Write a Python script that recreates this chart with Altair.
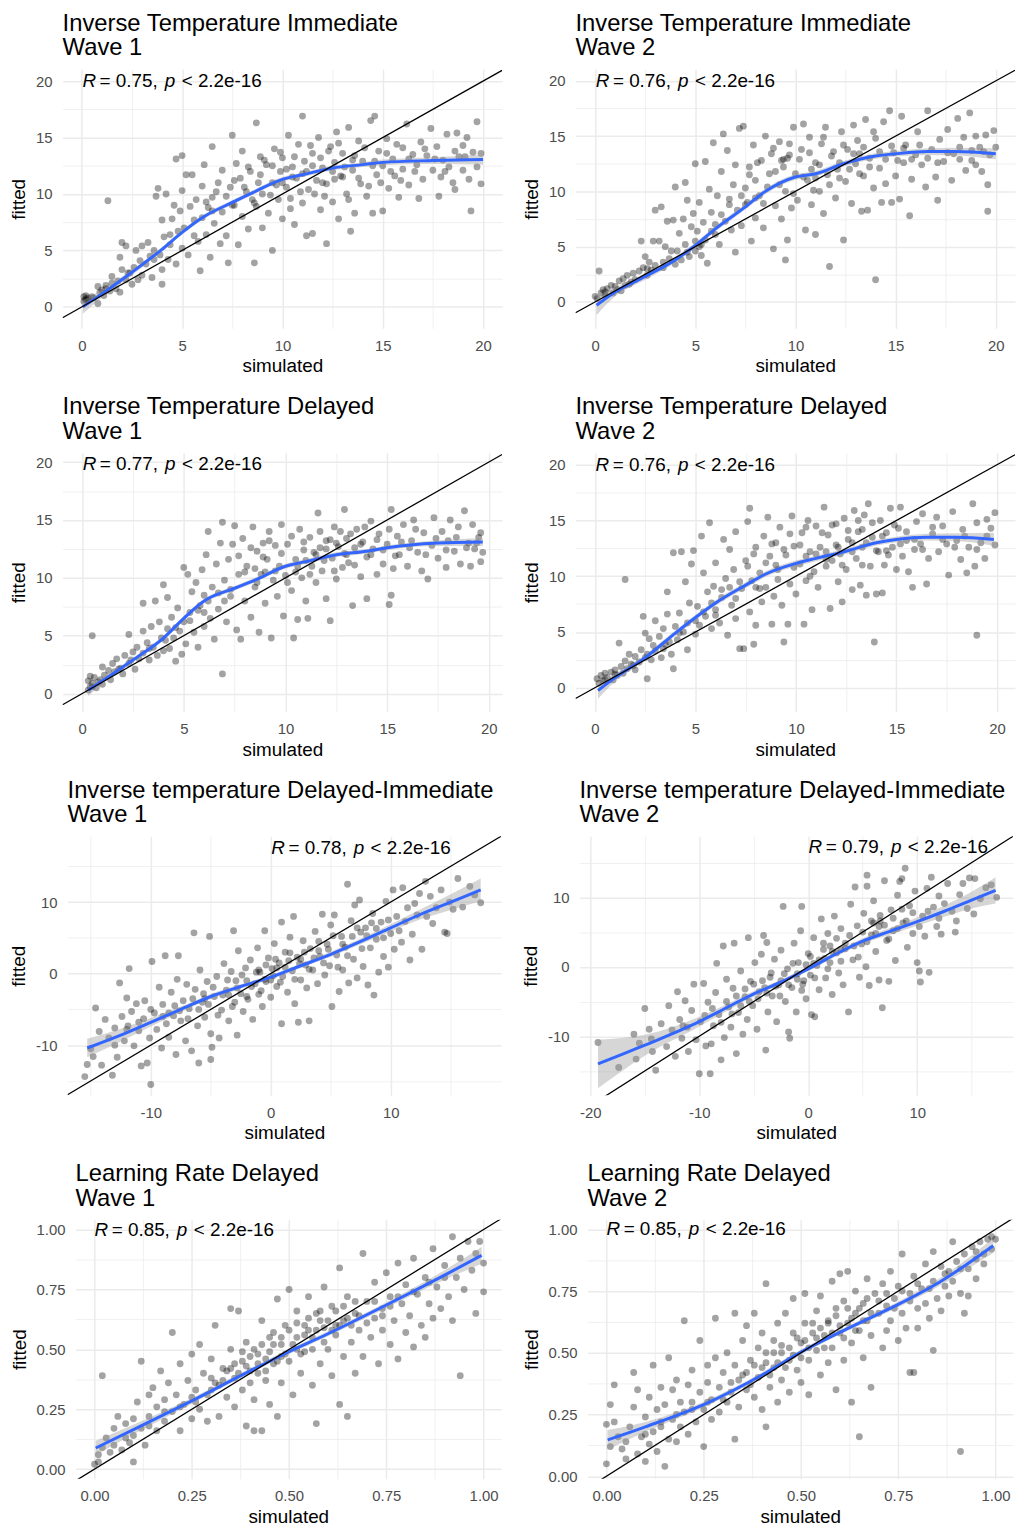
import altair as alt
import pandas as pd

FONT = "Liberation Sans"

TITLES = [
    ["Inverse Temperature Immediate", "Wave 1"],
    ["Inverse Temperature Immediate", "Wave 2"],
    ["Inverse Temperature Delayed", "Wave 1"],
    ["Inverse Temperature Delayed", "Wave 2"],
    ["Inverse temperature Delayed-Immediate", "Wave 1"],
    ["Inverse temperature Delayed-Immediate", "Wave 2"],
    ["Learning Rate Delayed", "Wave 1"],
    ["Learning Rate Delayed", "Wave 2"],
]
R_VALUES = ["0.75", "0.76", "0.77", "0.76", "0.78", "0.79", "0.85", "0.85"]
P_LABEL = "2.2e-16"
ANNOT_X = [0.03, 0.03, 0.03, 0.03, 0.05, 0.03, 0.0, 0.0]
ANNOT_Y = [20.0, 20.0, 19.8, 20.0, 17.6, 17.3, 1.0, 1.0]

# axis ranges (data units)
X_DOMAINS = [[-0.96, 20.95], [-0.98, 20.96], [-0.96, 20.65], [-0.97, 20.9],
             [-16.94, 19.2], [-21.0, 18.8], [-0.049, 1.045], [-0.049, 1.045]]
Y_DOMAINS = [[-1.9, 21.04], [-2.39, 21.04], [-1.57, 20.8], [-2.16, 21.07],
             [-17.0, 19.2], [-18.5, 18.8], [-0.040, 1.041], [-0.010, 1.039]]

TICKS_BETA = [0, 5, 10, 15, 20]
MINOR_BETA = [2.5, 7.5, 12.5, 17.5]
TICKS_DIFF_X1 = [-10, 0, 10]
TICKS_DIFF_X2 = [-20, -10, 0, 10]
TICKS_DIFF_Y = [-10, 0, 10]
MINOR_DIFF = [-15, -5, 5, 15]
TICKS_LR = [0, 0.25, 0.5, 0.75, 1.0]
MINOR_LR = [0.125, 0.375, 0.625, 0.875]

# ---------------- scatter points (simulated, fitted) ----------------
P1_PTS = [(0.1,0.5),(0.1,0.9),(0.2,0.7),(0.2,1.0),(0.3,0.6),(0.3,0.8),(0.5,0.9),(0.8,0.3),(0.8,1.8),(0.9,1.3),(1.0,1.5),
(1.1,1.0),(1.2,1.9),(1.3,9.4),(1.4,1.4),(1.5,2.1),(1.5,2.7),(1.7,1.6),(1.8,2.3),(1.9,1.3),(1.9,4.4),(2.0,3.3),(2.0,5.7),
(2.2,5.4),(2.2,2.4),(2.4,3.0),(2.5,2.0),(2.6,3.5),(2.7,5.0),(2.8,2.4),(2.9,4.1),(3.0,5.4),(3.0,2.8),
(3.2,3.8),(3.3,5.7),(3.4,4.5),(3.5,2.6),(3.6,5.0),(3.7,9.8),(3.8,10.5),(3.9,4.6),(4.0,2.0),(4.0,3.3),(4.0,7.7),(4.1,6.2),
(4.2,10.0),(4.3,4.2),(4.4,5.5),(4.5,7.8),(4.6,9.0),(4.7,13.1),(4.7,3.8),(4.8,6.7),(4.9,8.5),(5.0,13.4),(5.0,5.2),(5.0,10.3),
(5.1,7.0),(5.2,11.7),(5.3,4.6),(5.4,8.9),(5.5,11.7),(5.6,6.3),(5.7,9.5),(5.8,5.8),(5.9,3.2),(6.0,7.9),(6.0,10.7),
(6.1,12.6),(6.2,6.4),(6.3,8.8),(6.4,4.4),(6.5,14.2),(6.5,9.7),(6.6,7.4),(6.8,11.0),(6.9,5.6),(7.0,12.1),(7.0,8.4),
(7.2,6.3),(7.3,3.9),(7.4,10.6),(7.5,15.2),(7.6,9.0),(7.7,12.7),(7.8,5.5),(7.9,11.4),(8.0,8.0),(8.0,13.8),
(8.2,10.2),(8.3,6.9),(8.4,12.0),(8.6,3.9),(8.7,16.3),(8.7,8.9),(8.8,11.0),(8.9,13.3),(9.0,7.0),(9.0,10.0),
(9.2,12.6),(9.3,8.3),(9.5,5.0),(9.5,11.0),(9.6,14.0),(9.8,9.5),(9.9,12.0),(10.0,7.8),(10.0,13.2),
(10.2,10.6),(10.3,15.2),(10.4,8.7),(10.5,12.4),(10.6,7.3),(10.7,11.4),(10.8,14.4),(11.0,16.9),(11.0,9.2),(11.1,12.9),
(11.2,6.3),(11.3,10.4),(11.5,6.5),(11.5,13.6),(11.7,11.2),(11.8,15.0),(11.9,8.6),(12.0,12.3),
(12.2,5.6),(12.2,10.9),(12.4,14.2),(12.5,9.3),(12.6,12.8),(12.7,15.5),(12.8,7.8),(12.9,11.6),(13.0,13.6),
(13.2,10.0),(13.3,15.9),(13.4,6.7),(13.5,12.1),(13.6,8.3),(13.8,14.7),(13.9,10.9),(14.0,12.9),
(14.2,9.8),(14.4,16.5),(14.5,8.3),(14.6,16.9),(14.7,11.7),(14.8,13.8),(15.0,8.5),(15.0,12.5),
(15.2,14.9),(15.3,10.5),(15.5,13.1),(15.6,11.6),(15.8,9.7),(16.0,14.1),(16.0,12.2),
(16.2,16.2),(16.3,10.8),(16.5,13.5),(16.6,12.0),(16.8,9.6),(16.9,14.6),(17.0,11.3),
(17.2,13.4),(17.4,15.8),(17.5,12.1),(17.7,14.2),(17.8,9.8),(17.9,11.5),(18.0,13.0),
(18.2,15.3),(18.3,12.4),(18.5,11.0),(18.6,10.4),(18.7,15.4),(18.8,13.3),(19.0,12.1),(19.0,14.3),
(19.2,15.0),(19.3,11.3),(19.4,8.5),(19.5,13.7),(19.7,16.4),(19.7,12.4),(19.9,10.9),(19.9,13.6),
(9.5,12.5),(10.5,11.5),(11.5,12.5),(12.0,11.0),(12.5,12.0),(13.0,11.5),(11.0,11.8),(10.0,11.0),(8.5,9.5),(7.5,9.0),(6.5,8.5),(13.5,13.0),(14.5,12.5),
(7.2,9.8),(7.6,11.2),(8.1,10.6),(8.3,12.4),(8.6,9.2),(8.9,11.7),(9.1,13.0),(9.4,9.9),(9.7,10.8),(9.9,13.7),(10.2,12.2),(10.4,9.6),(10.6,13.3),(10.9,10.2),(11.2,12.0),(11.4,14.3),(11.6,10.0),(11.9,13.2),(12.1,9.8),(12.3,13.8),(12.6,11.3),(12.8,14.5),(13.1,12.4),(13.3,9.5),(13.6,13.4),(13.8,11.4),(14.1,14.1),(14.3,10.7),(14.6,12.9),(14.9,11.0),(15.2,13.6),(15.4,12.0),(15.7,14.4),(15.9,11.2),(16.3,13.1),(16.7,12.6),(17.1,14.0),(17.6,13.1),(18.1,12.0),(18.6,13.8),(19.1,13.3),(5.6,7.7),(6.2,9.3),(6.7,10.2),(4.4,6.4),(3.6,4.2),(2.3,3.0),(1.2,1.6),(0.6,0.8),(0.2,0.6)]

P2_PTS = [(0.0,0.5),(0.1,0.3),(0.2,2.8),(0.3,0.8),(0.4,1.1),(0.5,0.6),(0.6,1.2),(0.8,1.5),(0.9,0.8),(1.0,1.4),
(1.2,1.9),(1.3,1.0),(1.4,2.1),(1.5,1.5),(1.6,2.4),(1.8,1.8),(1.9,2.6),(2.0,2.0),
(2.2,2.8),(2.3,5.5),(2.4,3.1),(2.5,4.1),(2.6,2.4),(2.7,3.6),(2.8,2.9),(2.9,5.5),(3.0,8.3),(3.0,3.3),
(3.2,5.5),(3.3,8.6),(3.4,3.1),(3.5,5.0),(3.6,7.3),(3.7,3.9),(3.8,4.6),(3.9,7.4),(4.0,10.4),(4.0,3.4),
(4.2,6.2),(4.3,3.8),(4.4,7.5),(4.5,10.8),(4.5,5.2),(4.6,9.2),(4.7,4.1),(4.8,6.8),(4.9,8.0),(5.0,12.5),(5.0,4.6),(5.0,5.5),
(5.1,6.4),(5.2,9.0),(5.3,4.2),(5.4,7.2),(5.5,12.7),(5.5,5.6),(5.6,3.5),(5.7,10.2),(5.8,8.1),(5.9,14.4),(6.0,6.1),
(6.1,9.6),(6.2,5.2),(6.3,11.8),(6.4,15.2),(6.5,7.3),(6.6,13.7),(6.7,8.8),(6.8,6.5),(6.9,10.6),(7.0,4.5),(7.0,12.4),
(7.1,8.3),(7.2,15.7),(7.3,6.9),(7.4,15.9),(7.5,10.3),(7.6,9.0),(7.7,12.2),(7.8,5.5),(7.9,14.2),(8.0,7.6),(8.0,11.0),
(8.2,9.6),(8.3,12.8),(8.4,6.7),(8.5,15.0),(8.6,10.4),(8.8,13.4),(8.9,4.8),(9.0,8.7),(9.0,11.8),
(9.2,14.5),(9.3,7.5),(9.4,12.9),(9.5,3.8),(9.5,10.0),(9.6,5.6),(9.7,13.3),(9.8,8.5),(9.9,15.8),(10.0,11.6),
(10.1,9.2),(10.3,13.8),(10.4,16.1),(10.5,6.5),(10.6,11.0),(10.7,14.9),(10.8,8.8),(11.0,6.1),(11.0,12.6),
(11.2,10.0),(11.3,14.3),(11.4,8.0),(11.5,15.8),(11.6,11.5),(11.7,3.2),(11.8,13.2),(12.0,9.4),
(12.1,12.0),(12.3,15.4),(12.4,5.6),(12.5,10.9),(12.6,13.8),(12.8,8.9),(12.9,16.0),(13.0,12.5),
(13.1,14.6),(13.3,8.2),(13.4,11.4),(13.5,16.5),(13.6,8.3),(13.7,13.0),(13.9,10.3),(14.0,2.0),(14.0,14.8),
(14.2,12.1),(14.3,9.0),(14.4,16.3),(14.5,10.7),(14.7,17.3),(14.8,9.0),(14.9,13.5),(15.0,11.4),
(15.2,9.3),(15.3,16.8),(15.4,12.6),(15.5,14.2),(15.7,7.8),(15.8,11.1),(16.0,13.3),
(16.1,15.4),(16.3,12.4),(16.5,10.4),(16.6,17.3),(16.8,13.8),(17.0,11.3),(17.1,9.2),
(17.2,14.7),(17.4,12.7),(17.6,15.6),(17.8,11.0),(17.9,13.4),(18.1,16.6),
(18.2,12.9),(18.4,14.9),(18.5,11.9),(18.7,17.1),(18.8,13.7),(19.0,15.0),(19.0,12.4),
(19.2,14.0),(19.3,11.8),(19.5,15.1),(19.6,8.2),(19.6,10.6),(19.7,13.3),(19.9,15.5),(20.0,14.0),
(9.3,12.8),(9.6,13.0),(8.0,9.4),(7.5,8.8),(10.8,12.0),(12.2,12.6),(13.2,13.4),(11.0,11.2),(6.0,7.0),(5.2,5.0),
(7.3,9.6),(7.7,11.5),(8.1,12.6),(8.4,8.9),(8.7,11.6),(8.9,13.9),(9.2,10.6),(9.4,12.2),(9.7,14.3),(9.9,9.8),(10.2,12.9),(10.4,11.3),(10.7,13.5),(10.9,10.1),(11.2,12.4),(11.4,14.9),(11.7,10.6),(11.9,13.6),(12.2,11.2),(12.4,14.2),(12.7,12.0),(12.9,13.4),(13.2,11.6),(13.4,14.0),(13.7,12.2),(13.9,15.4),(14.2,13.6),(14.5,12.9),(14.8,14.1),(15.1,12.8),(15.4,13.9),(15.8,12.9),(16.2,14.2),(16.6,13.0),(17.1,12.6),(17.6,13.5),(18.2,14.0),(18.8,12.8),(19.4,13.6),(5.3,5.2),(5.8,6.4),(6.3,7.9),(6.7,9.3),(4.6,4.5),(4.1,4.6),(3.4,3.6),(2.6,3.0),(1.7,1.6),(1.1,1.1),(0.5,0.9)]

P3_PTS = [(0.3,0.3),(0.3,1.1),(0.4,0.6),(0.4,1.5),(0.5,5.0),(0.5,0.9),(0.6,1.4),(0.7,0.5),(0.8,1.0),(1.0,0.8),(1.0,2.3),
(1.1,1.6),(1.3,2.0),(1.4,1.2),(1.5,2.6),(1.6,1.9),(1.7,3.0),(1.9,2.2),(2.0,1.7),(2.1,3.3),
(2.3,5.1),(2.3,2.6),(2.5,3.6),(2.6,2.1),(2.7,4.0),(2.8,3.0),(3.0,7.8),(3.0,5.4),(3.0,3.5),
(3.2,4.4),(3.3,2.9),(3.4,5.8),(3.5,4.0),(3.6,8.0),(3.7,3.3),(3.8,6.2),(3.9,4.8),(4.0,9.4),(4.0,3.7),
(4.2,8.3),(4.2,5.6),(4.3,3.9),(4.4,6.6),(4.5,4.8),(4.6,2.8),(4.7,7.4),(4.8,5.4),(4.9,3.4),(5.0,10.9),(5.0,6.2),
(5.1,4.3),(5.2,10.3),(5.3,7.0),(5.4,8.8),(5.5,5.3),(5.6,9.6),(5.7,4.0),(5.8,7.6),(5.9,10.7),(6.0,5.8),(6.0,8.5),
(6.1,12.0),(6.2,14.0),(6.3,6.5),(6.4,9.2),(6.5,4.7),(6.6,11.2),(6.7,7.3),(6.8,13.0),(6.9,1.7),(6.9,14.8),(7.0,9.8),
(7.1,6.2),(7.2,11.6),(7.3,8.4),(7.4,12.9),(7.5,14.5),(7.6,5.5),(7.7,10.3),(7.8,4.7),(7.9,13.4),(8.0,8.0),
(8.1,11.0),(8.3,6.6),(8.4,14.4),(8.5,9.2),(8.6,12.3),(8.7,5.3),(8.8,10.3),(8.9,13.0),(9.0,7.8),
(9.1,11.6),(9.2,14.0),(9.3,4.8),(9.4,9.8),(9.5,12.8),(9.6,8.4),(9.7,11.0),(9.8,14.6),(9.9,6.7),(10.0,10.2),
(10.1,12.9),(10.3,8.9),(10.4,4.8),(10.5,11.6),(10.6,6.4),(10.7,14.2),(10.8,10.0),(10.9,12.4),(11.0,8.0),
(11.1,6.5),(11.2,13.5),(11.3,11.0),(11.5,9.6),(11.6,15.6),(11.7,12.6),(11.8,10.6),(12.0,13.2),(12.0,8.2),
(12.2,6.3),(12.3,11.7),(12.4,14.4),(12.5,9.9),(12.6,12.7),(12.8,10.9),(12.9,15.9),(13.0,13.4),
(13.1,11.3),(13.3,7.6),(13.4,12.6),(13.5,14.2),(13.7,10.1),(13.8,13.1),(14.0,8.2),(14.0,11.8),
(14.2,14.9),(14.3,12.5),(14.5,10.3),(14.6,13.8),(14.8,11.2),(15.0,12.9),(15.1,7.7),
(15.2,15.9),(15.2,8.5),(15.3,10.8),(15.5,13.6),(15.6,12.0),(15.8,14.6),(16.0,11.0),
(16.2,13.2),(16.3,15.0),(16.5,12.2),(16.7,10.6),(16.8,13.9),(17.0,9.9),
(17.2,12.8),(17.3,15.2),(17.5,11.7),(17.7,14.0),(17.9,10.9),(18.0,13.2),
(18.1,15.0),(18.3,12.3),(18.5,14.4),(18.6,11.2),(18.8,15.8),(19.0,13.0),
(19.1,11.0),(19.2,14.6),(19.3,12.5),(19.5,13.5),(19.6,13.9),(19.6,11.4),(19.7,12.2),
(11.5,12.0),(12.0,12.5),(11.0,11.5),(12.5,13.0),(10.5,10.5),(9.0,10.5),(13.0,12.0),(8.5,10.8),(7.0,8.0),(6.0,7.0),
(7.3,9.0),(7.7,11.9),(8.0,10.5),(8.3,12.6),(8.6,9.6),(8.9,11.8),(9.2,13.2),(9.5,10.6),(9.8,12.1),(10.1,9.6),(10.3,13.6),(10.6,11.0),(10.9,13.1),(11.2,10.3),(11.4,12.2),(11.7,14.0),(11.9,11.5),(12.2,13.3),(12.4,10.6),(12.7,14.0),(12.9,12.1),(13.2,13.8),(13.4,11.1),(13.7,12.9),(13.9,14.4),(14.2,12.0),(14.5,13.3),(14.8,12.4),(15.1,14.2),(15.4,11.9),(15.7,13.1),(16.1,12.6),(16.4,14.2),(16.9,12.0),(17.4,13.4),(17.9,12.4),(18.4,13.5),(18.9,12.6),(19.4,13.0),(5.3,6.3),(5.7,7.2),(6.2,8.0),(6.7,8.7),(4.6,5.7),(4.1,4.6),(3.3,3.9),(2.4,2.9),(1.8,2.1),(0.9,1.2),(0.5,0.6)]

P4_PTS = [(0.1,0.8),(0.2,0.4),(0.3,1.1),(0.4,0.6),(0.5,1.3),(0.6,0.9),(0.8,1.4),(0.9,0.7),(1.0,1.6),
(1.1,1.1),(1.2,4.0),(1.3,1.9),(1.4,1.3),(1.5,9.7),(1.5,2.4),(1.6,1.7),(1.7,3.0),(1.8,2.1),(2.0,1.6),(2.0,2.8),
(2.2,2.3),(2.3,3.4),(2.4,6.4),(2.5,4.9),(2.6,0.8),(2.6,3.0),(2.7,4.4),(2.8,2.5),(2.9,3.8),(3.0,6.0),(3.0,3.3),
(3.2,4.6),(3.3,2.7),(3.4,5.3),(3.5,3.9),(3.6,8.6),(3.6,6.6),(3.7,4.1),(3.8,3.0),(3.9,12.1),(3.9,1.7),(4.0,5.5),
(4.1,4.3),(4.2,6.7),(4.3,12.2),(4.4,5.0),(4.5,9.5),(4.6,3.4),(4.7,7.6),(4.8,11.1),(4.9,12.3),(5.0,6.0),(5.0,4.8),
(5.1,7.3),(5.2,5.6),(5.3,13.6),(5.4,10.3),(5.5,6.4),(5.6,8.6),(5.7,14.8),(5.8,5.3),(5.9,9.1),(6.0,11.2),(6.0,7.0),
(6.2,5.8),(6.3,8.1),(6.4,13.3),(6.5,9.8),(6.6,4.7),(6.7,12.4),(6.8,7.4),(6.9,10.6),(7.0,14.0),(7.0,6.2),
(7.2,3.5),(7.3,8.9),(7.4,3.5),(7.5,11.4),(7.6,14.9),(7.7,16.1),(7.7,6.8),(7.8,9.6),(7.9,3.9),(8.0,12.6),(8.0,5.6),
(8.2,10.3),(8.3,7.7),(8.4,13.6),(8.5,9.0),(8.6,15.3),(8.7,11.8),(8.8,5.7),(8.9,8.2),(9.0,13.0),
(9.1,10.6),(9.2,14.4),(9.3,7.4),(9.4,4.1),(9.5,11.9),(9.6,5.7),(9.7,9.3),(9.8,15.4),(9.9,12.7),(10.0,8.4),
(10.2,11.1),(10.3,13.9),(10.4,5.7),(10.5,9.6),(10.6,15.0),(10.7,12.2),(10.8,7.0),(10.9,10.4),(11.0,14.5),
(11.1,9.0),(11.2,12.6),(11.4,16.2),(11.5,10.9),(11.6,13.7),(11.7,7.1),(11.8,11.4),(12.0,14.7),
(12.1,9.5),(12.2,12.0),(12.3,7.7),(12.4,15.2),(12.5,10.6),(12.6,13.3),(12.8,8.8),(12.9,15.9),(13.0,11.6),
(13.1,14.0),(13.2,9.2),(13.3,12.6),(13.4,15.5),(13.5,8.3),(13.6,16.5),(13.7,10.9),(13.8,13.5),(13.9,4.1),(14.0,8.4),
(14.1,12.2),(14.2,15.0),(14.3,8.5),(14.4,11.0),(14.5,13.9),(14.7,16.1),(14.8,12.6),(15.0,10.6),
(15.1,14.3),(15.2,16.2),(15.3,11.8),(15.5,13.2),(15.6,10.4),(15.8,9.0),(15.9,12.4),(16.0,14.9),
(16.2,12.9),(16.3,15.6),(16.5,9.3),(16.6,11.6),(16.8,13.8),(17.0,15.3),
(17.1,12.2),(17.3,14.5),(17.5,12.9),(17.6,10.1),(17.8,15.8),(18.0,13.2),
(18.2,11.5),(18.3,14.2),(18.5,10.3),(18.6,12.6),(18.8,16.5),(18.9,10.9),(19.0,4.7),(19.0,14.8),
(19.2,13.0),(19.4,11.6),(19.5,15.1),(19.7,14.3),(19.9,15.7),(19.9,12.8),
(12.0,12.8),(12.8,13.0),(13.3,14.2),(11.5,12.2),(10.5,11.8),(9.0,11.0),(8.0,9.0),(7.0,8.0),(6.0,6.5),(14.5,12.3),
(7.2,9.5),(7.6,10.9),(7.9,12.0),(8.2,8.9),(8.5,11.2),(8.8,12.9),(9.1,9.7),(9.4,12.4),(9.7,13.8),(9.9,10.8),(10.2,12.8),(10.5,14.4),(10.7,10.0),(11.0,12.0),(11.3,13.9),(11.5,11.5),(11.8,14.6),(12.1,12.6),(12.3,11.0),(12.6,14.1),(12.8,12.2),(13.1,15.0),(13.3,11.0),(13.5,13.0),(13.8,14.8),(14.0,12.3),(14.3,13.6),(14.6,11.9),(14.9,14.6),(15.2,12.9),(15.5,14.0),(15.9,13.3),(16.3,12.4),(16.8,14.4),(17.3,13.3),(17.9,12.6),(18.4,13.6),(19.0,12.4),(19.5,13.6),(5.4,6.8),(5.8,7.6),(6.3,8.8),(6.7,9.0),(4.6,5.8),(4.2,4.9),(3.4,3.5),(2.5,2.7),(1.9,2.0),(1.0,1.2),(0.5,0.7)]

P5_PTS = [(-15.5,-14.4),(-15.3,-12.7),(-15.0,-10.5),(-14.8,-11.6),(-14.6,-4.8),(-14.3,-8.1),(-14.1,-12.8),(-13.8,-6.4),(-13.5,-9.0),(-13.2,-14.2),(-13.0,-7.6),
(-12.8,-11.7),(-12.6,-1.3),(-12.4,-6.0),(-12.2,-9.4),(-12.0,-3.4),(-11.9,-7.3),(-11.8,0.7),(-11.6,-5.3),(-11.4,-10.1),(-11.2,-4.2),(-11.0,-8.0),
(-10.8,-12.9),(-10.6,-6.3),(-10.5,-3.8),(-10.3,-12.5),(-10.1,-9.0),(-10.0,-15.5),(-9.9,1.7),(-9.7,-5.5),(-9.5,-7.8),(-9.3,-1.9),(-9.1,-10.4),(-9.0,-4.3),
(-8.8,2.5),(-8.7,-7.0),(-8.5,-8.9),(-8.3,-2.6),(-8.1,-5.9),(-7.9,-11.3),(-7.8,-0.8),(-7.7,2.5),(-7.5,-6.6),(-7.3,-3.8),(-7.1,-9.4),(-7.0,-1.5),
(-6.8,-4.9),(-6.6,-10.8),(-6.4,5.7),(-6.3,-2.2),(-6.1,-7.3),(-6.0,-12.5),(-5.9,0.5),(-5.7,-4.0),(-5.5,-6.1),(-5.3,-1.1),(-5.1,5.2),(-5.0,-12.0),(-5.0,-8.4),
(-4.9,-10.3),(-4.7,-3.2),(-4.5,-0.4),(-4.3,-9.0),(-4.1,-5.1),(-3.9,1.4),(-3.7,-2.3),(-3.5,-6.6),(-3.3,0.3),(-3.1,6.0),(-3.0,-4.0),(-2.9,-1.0),
(-2.8,-8.6),(-2.7,3.2),(-2.5,-2.8),(-2.3,-5.3),(-2.1,0.8),(-1.9,-3.6),(-1.7,1.9),(-1.5,-6.4),(-1.3,-1.4),(-1.1,3.6),(-1.0,-2.9),
(-0.9,0.2),(-0.7,-4.6),(-0.5,6.0),(-0.4,-1.1),(-0.2,2.2),(0.0,-3.3),(0.1,0.7),(0.3,4.2),(0.5,-1.8),(0.7,1.5),(0.9,-7.0),(0.9,7.2),(1.0,-0.4),
(1.2,3.0),(1.4,-2.6),(1.6,5.1),(1.8,0.4),(1.9,8.0),(2.0,-4.2),(2.2,2.3),(2.3,-6.8),(2.5,-0.9),(2.7,4.6),(2.9,1.2),(3.0,-2.0),
(3.2,-6.6),(3.3,3.5),(3.5,0.5),(3.7,5.9),(3.9,-1.4),(4.1,2.4),(4.3,8.3),(4.5,-0.2),(4.7,4.1),(4.9,1.1),(5.0,6.8),
(5.1,-4.6),(5.3,8.2),(5.5,2.6),(5.7,-2.5),(5.9,5.2),(6.0,0.5),(6.2,3.7),(6.4,12.5),(6.5,-1.3),(6.7,7.4),(6.9,2.0),(7.0,9.6),
(7.2,-0.6),(7.4,10.3),(7.5,5.8),(7.7,1.0),(7.9,6.4),(8.1,-1.6),(8.3,3.6),(8.5,8.4),(8.6,-3.0),(8.8,4.8),(9.0,0.2),
(9.2,7.2),(9.4,2.4),(9.6,10.1),(9.8,0.9),(10.0,5.6),(10.2,11.7),(10.3,3.4),(10.5,8.0),(10.7,6.0),(10.9,4.4),(11.0,12.0),
(11.2,7.3),(11.4,9.2),(11.6,1.9),(11.8,5.5),(12.0,9.8),(12.2,8.2),(12.4,11.2),(12.6,3.4),(12.9,12.9),(13.0,8.0),
(13.3,10.8),(13.5,7.0),(13.8,9.2),(14.2,11.7),(14.5,5.8),(14.7,5.6),(14.9,10.0),(15.2,9.0),(15.6,13.3),(16.0,9.3),(16.6,12.2),(17.0,11.0),(17.5,9.9),
(-2.0,-1.0),(-1.0,0.5),(0.5,0.8),(1.5,1.8),(-3.5,-3.0),(-5.5,-3.5),(2.5,2.0),(4.0,3.2),(-0.5,-0.8),(0.2,-0.3),
(-9.0,-6.0),(-8.0,-4.5),(-7.6,-5.2),(-6.9,-6.3),(-6.5,-3.5),(-6.0,-5.0),(-5.6,-2.8),(-5.2,-4.3),(-4.8,-1.9),(-4.4,-5.8),(-4.0,-3.0),(-3.6,-0.9),(-3.2,-4.6),(-2.8,-2.0),(-2.4,-0.2),(-2.0,-3.2),(-1.6,-1.8),(-1.2,0.2),(-0.8,-2.4),(-0.4,1.2),(0.0,-0.9),(0.4,2.0),(0.8,-1.2),(1.2,0.9),(1.6,2.9),(2.0,-0.8),(2.4,1.4),(2.8,3.0),(3.2,0.6),(3.6,2.2),(4.0,4.5),(4.4,1.5),(4.8,3.4),(5.2,5.3),(5.6,0.9),(6.0,4.1),(6.4,2.5),(6.8,5.2),(7.2,6.4),(7.6,3.5),(8.0,5.3),(8.4,7.1),(8.8,6.3),(9.4,5.0),(9.8,7.5),(-11.0,-6.8),(-12.0,-7.8),(-13.0,-10.0),(-8.5,-5.5),(-10.0,-5.0)]

P6_PTS = [(-19.3,-10.9),(-17.4,-14.5),(-16.0,-9.7),(-15.8,-13.3),(-15.5,-11.0),(-15.0,-6.0),(-14.6,-9.0),(-14.4,-10.4),(-14.3,-12.2),(-14.0,-14.9),(-13.5,-8.2),(-13.0,-11.5),
(-12.8,-5.6),(-12.5,-9.1),(-12.2,-12.9),(-12.0,-3.6),(-11.8,-7.6),(-11.6,-10.3),(-11.3,-4.9),(-11.1,-8.7),(-11.0,-12.2),
(-10.7,-6.3),(-10.5,-2.5),(-10.3,-10.5),(-10.0,-15.4),(-9.9,-7.9),(-9.6,-2.4),(-9.4,-11.4),(-9.2,-5.1),(-9.0,-15.4),(-8.9,-11.1),(-8.7,-8.5),(-8.5,-3.7),(-8.4,0.5),(-8.2,-6.9),(-8.0,-13.4),
(-7.8,3.0),(-7.7,-10.2),(-7.5,-1.8),(-7.3,-5.8),(-7.1,-8.7),(-6.9,-3.1),(-6.8,3.4),(-6.6,-12.5),(-6.4,-6.6),(-6.2,-0.6),(-6.0,-9.7),(-5.8,-4.3),(-5.6,-7.6),(-5.5,4.2),(-5.3,-2.1),
(-5.1,-5.6),(-4.9,0.6),(-4.7,-9.0),(-4.5,-3.6),(-4.3,1.8),(-4.1,4.5),(-3.9,-12.0),(-3.8,3.5),(-3.7,-6.5),(-3.5,-1.5),(-3.3,-4.2),(-3.1,1.1),(-2.9,-7.9),(-2.7,-2.6),(-2.5,2.4),(-2.3,8.7),(-2.1,-5.0),
(-1.9,-0.3),(-1.8,-9.4),(-1.7,-10.3),(-1.5,-3.0),(-1.3,3.4),(-1.1,-6.5),(-0.9,0.6),(-0.7,5.2),(-0.6,8.7),(-0.4,-2.0),(-0.2,-4.6),(0.0,1.9),(0.2,-1.2),(0.3,-6.9),(0.5,4.2),(0.6,-7.2),(0.8,0.2),
(1.0,-3.3),(1.2,6.9),(1.4,2.5),(1.6,-1.6),(1.8,4.8),(2.0,0.6),(2.2,-4.0),(2.4,7.3),(2.6,2.0),(2.8,-0.9),(3.0,5.5),(3.2,-2.6),(3.4,3.4),(3.7,-6.5),(3.9,9.0),
(4.1,1.0),(4.3,11.5),(4.5,5.9),(4.7,-1.5),(4.9,3.3),(5.1,7.7),(5.3,0.0),(5.4,11.6),(5.4,13.2),(5.6,-2.7),(5.8,4.6),(6.0,9.5),(6.2,2.2),(6.5,-1.9),(6.6,6.6),(6.8,-5.9),(7.0,12.4),
(7.2,3.8),(7.4,-2.1),(7.6,8.2),(7.8,5.2),(8.0,0.9),(8.2,10.3),(8.4,12.3),(8.6,12.7),(8.7,6.3),(8.9,14.2),(9.1,2.8),(9.3,8.8),(9.6,4.8),(9.8,10.9),(10.0,0.6),
(10.2,-0.6),(10.3,-2.2),(10.5,7.3),(10.7,4.4),(10.9,11.3),(11.1,-0.8),(11.3,12.9),(11.5,8.6),(11.8,5.8),(12.0,10.2),(12.2,4.7),(12.5,9.1),(12.8,12.0),
(13.2,8.0),(13.5,5.0),(13.6,6.6),(13.9,10.4),(14.2,12.0),(14.6,8.4),(14.8,12.8),(15.2,7.6),(15.3,12.7),(15.8,9.8),(16.3,11.4),(16.8,11.8),(17.3,10.0),
(-1.0,-1.0),(0.5,0.5),(1.5,1.2),(-2.5,-2.0),(3.0,2.5),(6.0,6.3),(6.5,5.8),(-4.0,-3.0),(2.0,3.0),(-0.5,-2.5),
(-9.5,-7.0),(-8.8,-6.0),(-8.0,-8.0),(-7.5,-5.0),(-7.0,-6.8),(-6.6,-4.2),(-6.2,-5.6),(-5.8,-3.2),(-5.4,-5.0),(-5.0,-2.5),(-4.6,-4.6),(-4.2,-2.0),(-3.8,-3.8),(-3.4,-0.9),(-3.0,-2.8),(-2.6,-4.2),(-2.2,-1.0),(-1.8,-2.6),(-1.4,0.5),(-1.0,-1.8),(-0.6,-3.4),(-0.2,0.3),(0.2,1.5),(0.6,-1.6),(1.0,1.0),(1.4,3.4),(1.8,-0.3),(2.2,2.2),(2.6,4.1),(3.0,0.8),(3.4,2.6),(3.8,4.5),(4.2,3.0),(4.6,1.4),(5.0,5.0),(5.4,3.6),(5.8,6.6),(6.2,4.8),(6.6,7.4),(7.0,6.0),(7.4,4.0),(7.8,7.0),(8.2,5.5),(8.6,8.3),(9.0,6.6),(9.6,7.8),(10.2,5.8),(11.0,8.0),(12.0,7.0),(-11.5,-8.5)]

P7_PTS = [(0.00,0.02),(0.01,0.03),(0.01,0.06),(0.02,0.39),(0.02,0.09),(0.03,0.13),(0.04,0.07),(0.05,0.17),(0.05,0.10),(0.06,0.22),(0.07,0.08),(0.08,0.19),(0.08,0.13),(0.09,0.11),(0.10,0.03),(0.10,0.21),
(0.11,0.28),(0.12,0.45),(0.12,0.17),(0.13,0.10),(0.14,0.31),(0.14,0.22),(0.15,0.34),(0.16,0.16),(0.16,0.26),(0.17,0.41),(0.18,0.20),(0.18,0.29),(0.19,0.36),(0.20,0.24),(0.20,0.57),
(0.21,0.31),(0.22,0.16),(0.22,0.44),(0.23,0.27),(0.24,0.37),(0.25,0.21),(0.25,0.48),(0.26,0.33),(0.27,0.25),(0.27,0.52),(0.28,0.40),(0.29,0.20),(0.29,0.31),(0.30,0.46),
(0.31,0.36),(0.31,0.60),(0.32,0.22),(0.33,0.42),(0.34,0.30),(0.35,0.67),(0.35,0.50),(0.36,0.26),(0.36,0.38),(0.37,0.66),(0.38,0.45),(0.38,0.33),(0.39,0.18),(0.39,0.53),(0.40,0.41),
(0.41,0.16),(0.41,0.29),(0.42,0.48),(0.43,0.16),(0.43,0.62),(0.44,0.37),(0.45,0.55),(0.45,0.27),(0.46,0.44),(0.47,0.22),(0.47,0.71),(0.48,0.52),(0.48,0.36),(0.49,0.60),(0.50,0.45),(0.50,0.75),
(0.51,0.31),(0.52,0.55),(0.52,0.66),(0.53,0.40),(0.54,0.60),(0.54,0.49),(0.55,0.72),(0.56,0.35),(0.56,0.55),(0.57,0.19),(0.57,0.65),(0.58,0.44),(0.59,0.59),(0.59,0.76),(0.60,0.50),
(0.61,0.39),(0.61,0.68),(0.62,0.56),(0.63,0.27),(0.63,0.84),(0.64,0.47),(0.64,0.62),(0.65,0.22),(0.65,0.72),(0.66,0.53),(0.67,0.40),(0.67,0.65),(0.68,0.58),(0.69,0.90),(0.69,0.47),(0.70,0.70),
(0.71,0.55),(0.72,0.63),(0.72,0.78),(0.73,0.44),(0.74,0.67),(0.74,0.58),(0.75,0.82),(0.76,0.52),(0.76,0.72),(0.77,0.62),(0.78,0.86),(0.78,0.46),(0.79,0.69),(0.80,0.57),(0.80,0.77),
(0.81,0.64),(0.82,0.88),(0.82,0.51),(0.83,0.73),(0.84,0.60),(0.85,0.80),(0.85,0.55),(0.86,0.69),(0.87,0.92),(0.87,0.63),(0.88,0.76),(0.89,0.67),(0.90,0.85),
(0.91,0.72),(0.92,0.97),(0.92,0.62),(0.93,0.80),(0.94,0.39),(0.94,0.88),(0.95,0.75),(0.96,0.95),(0.97,0.83),(0.98,0.65),(0.98,0.90),(0.99,0.95),(1.00,0.74),(1.00,0.86),
(0.40,0.47),(0.42,0.40),(0.44,0.46),(0.46,0.52),(0.48,0.47),(0.52,0.50),(0.55,0.58),(0.58,0.62),(0.62,0.60),(0.35,0.42),(0.30,0.38),(0.25,0.30),
(0.30,0.33),(0.32,0.35),(0.33,0.37),(0.34,0.41),(0.36,0.44),(0.37,0.40),(0.38,0.49),(0.39,0.43),(0.40,0.36),(0.41,0.50),(0.42,0.44),(0.43,0.52),(0.44,0.41),(0.45,0.49),(0.46,0.57),(0.47,0.45),(0.48,0.55),(0.49,0.48),(0.50,0.58),(0.51,0.52),(0.52,0.61),(0.53,0.48),(0.54,0.56),(0.55,0.63),(0.56,0.50),(0.57,0.58),(0.58,0.66),(0.59,0.53),(0.60,0.62),(0.61,0.58),(0.62,0.66),(0.63,0.60),(0.64,0.68),(0.65,0.63),(0.66,0.60),(0.67,0.70),(0.68,0.64),(0.70,0.61),(0.72,0.70),(0.74,0.64),(0.76,0.68),(0.78,0.72),(0.82,0.74),(0.86,0.78),(0.90,0.80),(0.22,0.26),(0.18,0.24),(0.14,0.18),(0.26,0.28),(0.10,0.14)]

P8_PTS = [(0.00,0.05),(0.00,0.21),(0.01,0.29),(0.01,0.12),(0.02,0.22),(0.02,0.37),(0.03,0.16),(0.04,0.11),(0.05,0.07),(0.05,0.14),(0.06,0.20),(0.07,0.42),(0.07,0.28),(0.08,0.35),(0.08,0.09),(0.09,0.16),(0.10,0.06),(0.10,0.24),
(0.11,0.32),(0.11,0.13),(0.12,0.45),(0.12,0.18),(0.13,0.27),(0.13,0.10),(0.14,0.36),(0.14,0.20),(0.15,0.04),(0.15,0.29),(0.16,0.48),(0.16,0.15),(0.17,0.35),(0.17,0.23),(0.18,0.39),(0.18,0.14),(0.19,0.30),(0.19,0.20),(0.20,0.63),(0.20,0.26),
(0.21,0.37),(0.21,0.17),(0.22,0.43),(0.22,0.30),(0.23,0.22),(0.24,0.55),(0.24,0.34),(0.25,0.12),(0.25,0.27),(0.26,0.45),(0.26,0.38),(0.27,0.23),(0.27,0.31),(0.28,0.64),(0.28,0.48),(0.29,0.36),(0.29,0.26),(0.30,0.42),
(0.31,0.30),(0.31,0.50),(0.32,0.38),(0.33,0.66),(0.33,0.15),(0.33,0.45),(0.34,0.28),(0.35,0.55),(0.35,0.41),(0.36,0.35),(0.36,0.61),(0.37,0.47),(0.38,0.66),(0.38,0.32),(0.39,0.52),(0.39,0.40),(0.40,0.58),(0.40,0.27),
(0.41,0.78),(0.41,0.20),(0.41,0.46),(0.42,0.36),(0.43,0.55),(0.43,0.44),(0.44,0.30),(0.44,0.62),(0.45,0.50),(0.45,0.39),(0.46,0.66),(0.47,0.47),(0.47,0.34),(0.48,0.58),(0.48,0.72),(0.49,0.43),(0.50,0.54),(0.50,0.38),
(0.51,0.74),(0.51,0.62),(0.52,0.47),(0.52,0.33),(0.53,0.58),(0.54,0.67),(0.54,0.51),(0.55,0.41),(0.55,0.73),(0.56,0.57),(0.57,0.46),(0.57,0.63),(0.58,0.79),(0.58,0.52),(0.59,0.35),(0.59,0.68),(0.60,0.82),(0.60,0.58),
(0.61,0.47),(0.61,0.71),(0.62,0.83),(0.62,0.62),(0.63,0.30),(0.63,0.54),(0.64,0.75),(0.64,0.66),(0.65,0.16),(0.65,0.59),(0.66,0.48),(0.66,0.70),(0.67,0.80),(0.67,0.63),(0.68,0.36),(0.68,0.57),(0.69,0.74),(0.70,0.66),
(0.71,0.52),(0.71,0.78),(0.72,0.69),(0.72,0.59),(0.73,0.83),(0.73,0.63),(0.74,0.72),(0.75,0.55),(0.75,0.77),(0.76,0.90),(0.76,0.66),(0.77,0.60),(0.78,0.42),(0.78,0.74),(0.79,0.42),(0.79,0.81),(0.80,0.68),(0.80,0.60),
(0.81,0.76),(0.82,0.86),(0.82,0.70),(0.83,0.64),(0.84,0.91),(0.84,0.51),(0.84,0.79),(0.85,0.72),(0.86,0.85),(0.86,0.67),(0.87,0.77),(0.88,0.83),(0.88,0.73),(0.89,0.95),(0.89,0.79),(0.90,0.87),
(0.91,0.10),(0.91,0.74),(0.92,0.66),(0.92,0.90),(0.93,0.73),(0.93,0.84),(0.94,0.93),(0.95,0.88),(0.95,0.80),(0.96,0.95),(0.97,0.90),(0.97,0.86),(0.98,0.96),(0.99,0.97),(0.99,0.92),(1.00,0.96),
(0.30,0.31),(0.32,0.34),(0.34,0.39),(0.36,0.42),(0.37,0.37),(0.38,0.45),(0.40,0.44),(0.41,0.50),(0.42,0.41),(0.43,0.50),(0.44,0.46),(0.45,0.53),(0.46,0.44),(0.47,0.52),(0.48,0.49),(0.49,0.56),(0.50,0.48),(0.51,0.55),(0.52,0.52),(0.53,0.62),(0.54,0.56),(0.55,0.60),(0.56,0.52),(0.57,0.62),(0.58,0.58),(0.59,0.65),(0.60,0.61),(0.61,0.56),(0.62,0.68),(0.63,0.64),(0.64,0.59),(0.65,0.68),(0.66,0.63),(0.67,0.72),(0.68,0.66),(0.70,0.71),(0.72,0.74),(0.74,0.68),(0.76,0.75),(0.78,0.71),(0.80,0.78),(0.83,0.76),(0.87,0.82),(0.91,0.84),(0.95,0.91),(0.22,0.27),(0.18,0.25),(0.14,0.22),(0.26,0.30),(0.10,0.17)]

# ---------------- smoother (loess) ----------------
SM_X = [
    [0.05,1,2.5,4,5,6,7.5,8.5,10,11,12.5,14,15,17.5,20],
    [0.07,1,2.5,4,5,6,7.5,8.5,10,11,12.4,14,15,16.6,18,20],
    [0.3,1,2.5,4,5,6,7.5,8.5,10,11,12.5,14,15,17.5,19.7],
    [0.15,1,2.5,4,5,6,7.5,8.5,10,11,12.4,14,15,16.5,18,19.85],
    [-15.3,-12.5,-10,-7.5,-5,-2.5,0,2.5,5,7.5,10,12.5,15,17.5],
    [-19.3,-15,-10,-7.5,-5,-2.5,0,2.5,5,7.5,10,12.5,15,17.2],
    [0.003,0.1,0.25,0.4,0.5,0.6,0.75,0.9,0.995],
    [0.003,0.1,0.25,0.4,0.5,0.63,0.75,0.86,0.994],
]
SM_Y = [
    [0.0,1.15,3.07,5.1,6.6,7.9,9.25,10.1,11.3,11.7,12.3,12.6,12.8,12.96,13.05],
    [-0.3,0.9,2.3,3.8,5.1,6.6,8.6,10.0,11.3,11.6,12.5,13.2,13.4,13.6,13.6,13.4],
    [0.3,1.1,2.9,4.8,6.5,8.0,9.1,9.8,11.0,11.4,12.0,12.3,12.6,13.0,13.1],
    [-0.25,0.9,2.7,4.9,6.3,7.6,9.2,10.2,11.15,11.6,12.2,13.0,13.3,13.5,13.5,13.3],
    [-10.4,-8.6,-6.8,-5.0,-3.2,-1.8,-0.5,1.1,2.7,4.5,6.4,8.3,10.0,11.7],
    [-14.0,-11.3,-7.9,-5.9,-3.9,-2.2,-0.3,1.8,3.7,5.1,6.5,8.0,9.6,11.0],
    [0.088,0.165,0.285,0.41,0.49,0.565,0.685,0.81,0.892],
    [0.147,0.2,0.29,0.41,0.503,0.606,0.696,0.79,0.934],
]
SM_LO = [
    [-0.6,0.8,2.8,4.9,6.4,7.7,9.05,9.9,11.1,11.5,12.1,12.4,12.55,12.65,12.6],
    [-1.2,0.5,2.0,3.55,4.85,6.35,8.35,9.75,11.05,11.35,12.25,12.95,13.15,13.3,13.25,12.9],
    [-0.2,0.8,2.7,4.6,6.3,7.8,8.9,9.6,10.8,11.2,11.8,12.1,12.4,12.75,12.75],
    [-1.0,0.55,2.45,4.65,6.05,7.35,8.95,9.95,10.9,11.35,11.95,12.75,13.05,13.2,13.15,12.7],
    [-11.7,-9.5,-7.4,-5.4,-3.55,-2.1,-0.8,0.8,2.35,4.1,5.9,7.6,8.9,10.1],
    [-17.5,-12.8,-8.6,-6.4,-4.3,-2.55,-0.65,1.45,3.3,4.6,5.9,7.2,8.4,9.1],
    [0.058,0.145,0.273,0.40,0.48,0.555,0.673,0.79,0.857],
    [0.107,0.18,0.278,0.40,0.493,0.596,0.684,0.775,0.904],
]
SM_HI = [
    [0.6,1.5,3.3,5.3,6.8,8.1,9.45,10.3,11.5,11.9,12.5,12.8,13.05,13.25,13.5],
    [0.6,1.3,2.6,4.05,5.35,6.85,8.85,10.25,11.55,11.85,12.75,13.45,13.65,13.9,13.95,13.9],
    [0.8,1.4,3.1,5.0,6.7,8.2,9.3,10.0,11.2,11.6,12.2,12.5,12.8,13.25,13.45],
    [0.5,1.25,2.95,5.15,6.55,7.85,9.45,10.45,11.4,11.85,12.45,13.25,13.55,13.8,13.85,13.9],
    [-9.1,-7.7,-6.2,-4.6,-2.85,-1.5,-0.2,1.4,3.05,4.9,6.9,9.0,11.1,13.3],
    [-10.5,-9.8,-7.2,-5.4,-3.5,-1.85,0.05,2.15,4.1,5.6,7.1,8.8,10.8,12.9],
    [0.118,0.185,0.297,0.42,0.50,0.575,0.697,0.83,0.927],
    [0.187,0.22,0.302,0.42,0.513,0.616,0.708,0.805,0.964],
]

POINTS = [P1_PTS, P2_PTS, P3_PTS, P4_PTS, P5_PTS, P6_PTS, P7_PTS, P8_PTS]
X_MAJOR = [TICKS_BETA]*4 + [TICKS_DIFF_X1, TICKS_DIFF_X2] + [TICKS_LR]*2
X_MINOR = [MINOR_BETA]*4 + [MINOR_DIFF, MINOR_DIFF] + [MINOR_LR]*2
Y_MAJOR = [TICKS_BETA]*4 + [TICKS_DIFF_Y, TICKS_DIFF_Y] + [TICKS_LR]*2
Y_MINOR = [MINOR_BETA]*4 + [MINOR_DIFF, MINOR_DIFF] + [MINOR_LR]*2
IS_LR = [False]*6 + [True]*2
WIDTHS = [443, 443, 443, 443, 437, 437, 429, 429]
HEIGHT = 261

GRID = "#EBEBEB"
LABEL_GREY = "#4D4D4D"
BLUE = "#3366FF"


def make_axis(major, minor, lr, title, label_pad, title_pad):
    maj = "[" + ",".join(repr(v) for v in major) + "]"
    test = "indexof(" + maj + ", datum.value) >= 0"
    lab = "format(datum.value, '.2f')" if lr else "'' + datum.value"
    return alt.Axis(
        values=sorted(major + minor),
        labelExpr=test + " ? " + lab + " : ''",
        grid=True, gridColor=GRID,
        gridWidth={"condition": {"test": test, "value": 1.5}, "value": 0.75},
        domain=False, ticks=False, tickSize=0,
        labelPadding=label_pad, labelFontSize=15, labelColor=LABEL_GREY, labelFont=FONT,
        labelFlush=False, labelOverlap=False,
        title=title, titleFontSize=19, titleFont=FONT, titleFontWeight="normal",
        titleColor="black", titlePadding=title_pad,
    )


def panel(i):
    xs = alt.Scale(domain=X_DOMAINS[i], nice=False, zero=False)
    ys = alt.Scale(domain=Y_DOMAINS[i], nice=False, zero=False)
    xaxis = make_axis(X_MAJOR[i], X_MINOR[i], IS_LR[i], "simulated", 10, 4)
    yaxis = make_axis(Y_MAJOR[i], Y_MINOR[i], IS_LR[i], "fitted", 10.5, 7)

    pts = pd.DataFrame(POINTS[i], columns=["sim", "fit"])
    sm = pd.DataFrame({"sx": SM_X[i], "sy": SM_Y[i], "lo": SM_LO[i], "hi": SM_HI[i]})
    ident = pd.DataFrame({"ix": X_DOMAINS[i], "iy": X_DOMAINS[i]})
    ann = pd.DataFrame({"ax": [ANNOT_X[i]], "ay": [ANNOT_Y[i]]})

    def X(field):
        return alt.X(field, type="quantitative", scale=xs, axis=xaxis)

    def Y(field):
        return alt.Y(field, type="quantitative", scale=ys, axis=yaxis)

    points = alt.Chart(pts).mark_circle(size=48, color="black", opacity=0.36, clip=True).encode(
        x=X("sim"), y=Y("fit"))
    band = alt.Chart(sm).mark_area(color="#999999", opacity=0.4, interpolate="monotone", clip=True).encode(
        x=X("sx"), y=Y("lo"), y2="hi:Q")
    smooth = alt.Chart(sm).mark_line(color=BLUE, strokeWidth=3, interpolate="monotone", clip=True).encode(
        x=X("sx"), y=Y("sy"))
    identity = alt.Chart(ident).mark_line(color="black", strokeWidth=1.3, clip=True).encode(
        x=X("ix"), y=Y("iy"))
    pieces = [("R", "italic", 0), ("= " + R_VALUES[i] + ",", "normal", 17.3),
              ("p", "italic", 83), ("< " + P_LABEL, "normal", 100)]
    texts = []
    for txt, style, dx in pieces:
        texts.append(
            alt.Chart(ann).mark_text(text=txt, fontStyle=style, dx=dx, align="left", baseline="middle",
                                     fontSize=19, font=FONT, color="black").encode(
                x=X("ax"), y=Y("ay"))
        )
    return alt.layer(points, band, smooth, identity, *texts).properties(
        width=WIDTHS[i], height=HEIGHT,
        title=alt.TitleParams(text=TITLES[i], anchor="start", frame="group", fontSize=24, font=FONT,
                              fontWeight="normal", color="black", offset=9, lineHeight=25),
    )


def spacer():
    return alt.Chart(pd.DataFrame({"v": [0]})).mark_point(opacity=0, size=0).properties(width=1, height=1)


rows = []
for r in range(4):
    left = alt.hconcat(spacer(), panel(2 * r), spacing=0)
    rows.append(alt.hconcat(left, panel(2 * r + 1), spacing=19))

chart = alt.vconcat(*rows, spacing=17.5).properties(
    padding={"left": 0, "top": -3.2, "right": 0, "bottom": 0}
).configure(font=FONT).configure_view(stroke="transparent")

chart.save("out.html", embed_options={"renderer": "svg", "actions": False})
